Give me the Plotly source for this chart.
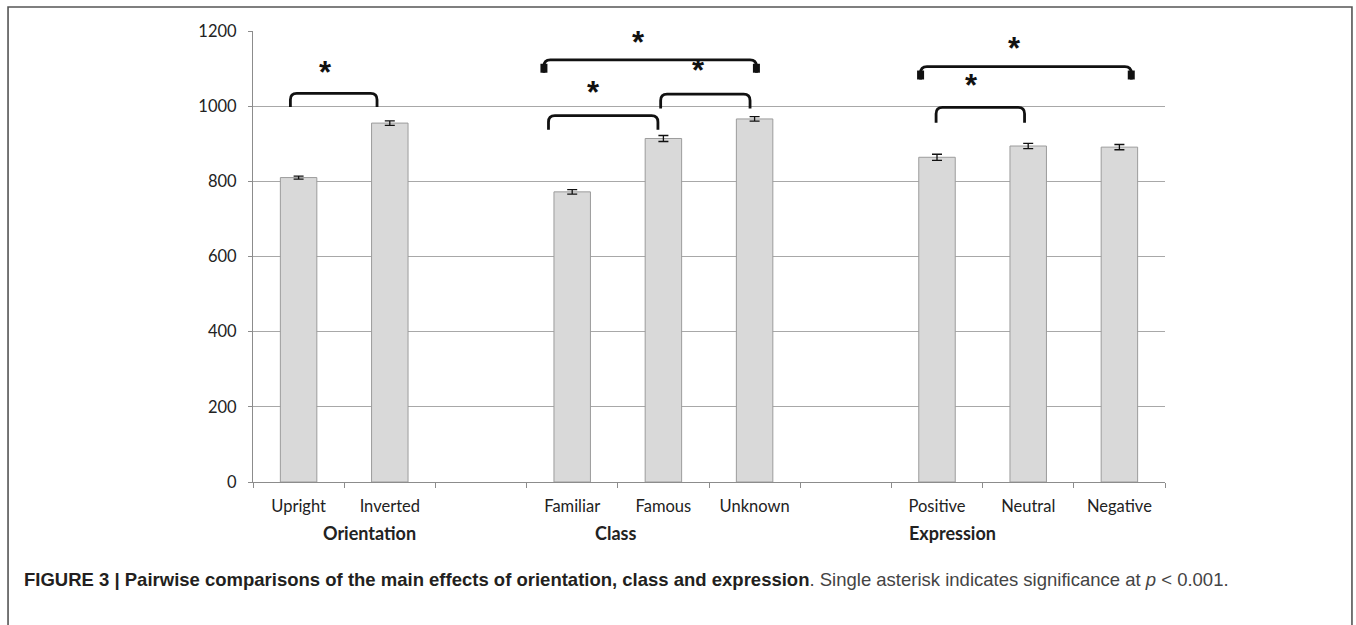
import plotly.graph_objects as go

# Mean response times (ms) per condition, with standard errors
categories = ["Upright", "Inverted", " ", "Familiar", "Famous", "Unknown", "  ", "Positive", "Neutral", "Negative"]
mean_rt = [810, 955, None, 772, 914, 966, None, 864, 894, 891]
std_err = [4, 6, None, 6, 8, 6, None, 8, 7, 7]
group_labels = ["Orientation", "Class", "Expression"]

# Significance brackets: (left, right, top, foot) in category-index / ms units,
# and where each asterisk sits
brackets = [
    dict(x0=-0.09, x1=0.86, top=1034, foot=998, sx=0.30, sy=1096, heavy=False),
    dict(x0=2.69, x1=5.02, top=1123, foot=1089, sx=3.73, sy=1176, heavy=True),
    dict(x0=2.74, x1=3.94, top=975, foot=937, sx=3.23, sy=1041, heavy=False),
    dict(x0=3.97, x1=4.95, top=1032, foot=994, sx=4.38, sy=1099, heavy=False),
    dict(x0=6.82, x1=9.13, top=1105, foot=1071, sx=7.85, sy=1158, heavy=True),
    dict(x0=6.99, x1=7.96, top=997, foot=956, sx=7.38, sy=1061, heavy=False),
]

fig = go.Figure()
fig.add_trace(go.Bar(
    x=categories,
    y=mean_rt,
    width=0.4,
    marker=dict(color="#d9d9d9", line=dict(color="#9c9c9c", width=1)),
    error_y=dict(type="data", array=std_err, visible=True,
                 color="#111111", thickness=1.3, width=5),
    hoverinfo="skip",
))

shapes = []
DX, DY = 0.07, 17  # rounded-corner size of the brackets
for b in brackets:
    x0, x1, top, foot = b["x0"], b["x1"], b["top"], b["foot"]
    path = (f"M {x0},{foot} L {x0},{top - DY} Q {x0},{top} {x0 + DX},{top} "
            f"L {x1 - DX},{top} Q {x1},{top} {x1},{top - DY} L {x1},{foot}")
    shapes.append(dict(type="path", path=path, xref="x", yref="y",
                       line=dict(color="#111111", width=2.8)))
    if b["heavy"]:
        for xe in (x0, x1):
            shapes.append(dict(type="line", xref="x", yref="y",
                               x0=xe, x1=xe, y0=foot, y1=top - DY * 0.6,
                               line=dict(color="#111111", width=7)))

# outer frame around chart and caption
shapes.append(dict(type="rect", xref="paper", yref="paper",
                   x0=-0.2686, x1=1.2050, y0=-0.36, y1=1.0532,
                   line=dict(color="#555555", width=1.6), layer="below"))

annotations = []
for b in brackets:
    annotations.append(dict(x=b["sx"], y=b["sy"], xref="x", yref="y",
                            text="<b>*</b>", showarrow=False,
                            font=dict(family="Liberation Sans", size=31, color="#111111"),
                            yanchor="middle", yshift=-2))

group_x = [0.775, 3.48, 7.17]
for gx, label in zip(group_x, group_labels):
    annotations.append(dict(x=gx, y=-0.112, xref="x", yref="paper",
                            text=f"<b>{label}</b>", showarrow=False,
                            font=dict(family="Lato", size=18, color="#222222"),
                            yanchor="middle"))

annotations.append(dict(
    x=-0.2533, y=-0.216, xref="paper", yref="paper", xanchor="left", yanchor="middle",
    showarrow=False, align="left",
    text=("<b>FIGURE 3 | Pairwise comparisons of the main effects of orientation, class and expression</b>"
          "<span style='color:#444444'>. Single asterisk indicates significance at <i>p</i> &lt; 0.001.</span>"),
    font=dict(family="Liberation Sans", size=18.5, color="#231f20"),
))

fig.update_layout(
    width=1356, height=625,
    margin=dict(l=253, r=191, t=31, b=142.5),
    plot_bgcolor="white", paper_bgcolor="white",
    showlegend=False,
    bargap=0.6,
    shapes=shapes,
    annotations=annotations,
    xaxis=dict(
        type="category", categoryorder="array", categoryarray=categories,
        tickson="boundaries", ticks="outside", ticklen=5, tickcolor="#8c8c8c",
        showline=True, linecolor="#8c8c8c", linewidth=1.2,
        showgrid=False, range=[-0.5, 9.5],
        tickfont=dict(family="Lato", size=16.5, color="#222222"),
        ticklabelstandoff=9,
    ),
    yaxis=dict(
        range=[0, 1200], dtick=200, ticks="outside", ticklen=4, tickcolor="#8c8c8c",
        showline=True, linecolor="#8c8c8c", linewidth=1.2,
        showgrid=True, gridcolor="#a8a8a8", gridwidth=1,
        zeroline=False,
        tickfont=dict(family="Lato", size=16.5, color="#222222"),
        ticklabelstandoff=8,
    ),
)

fig.write_html("out.html")
